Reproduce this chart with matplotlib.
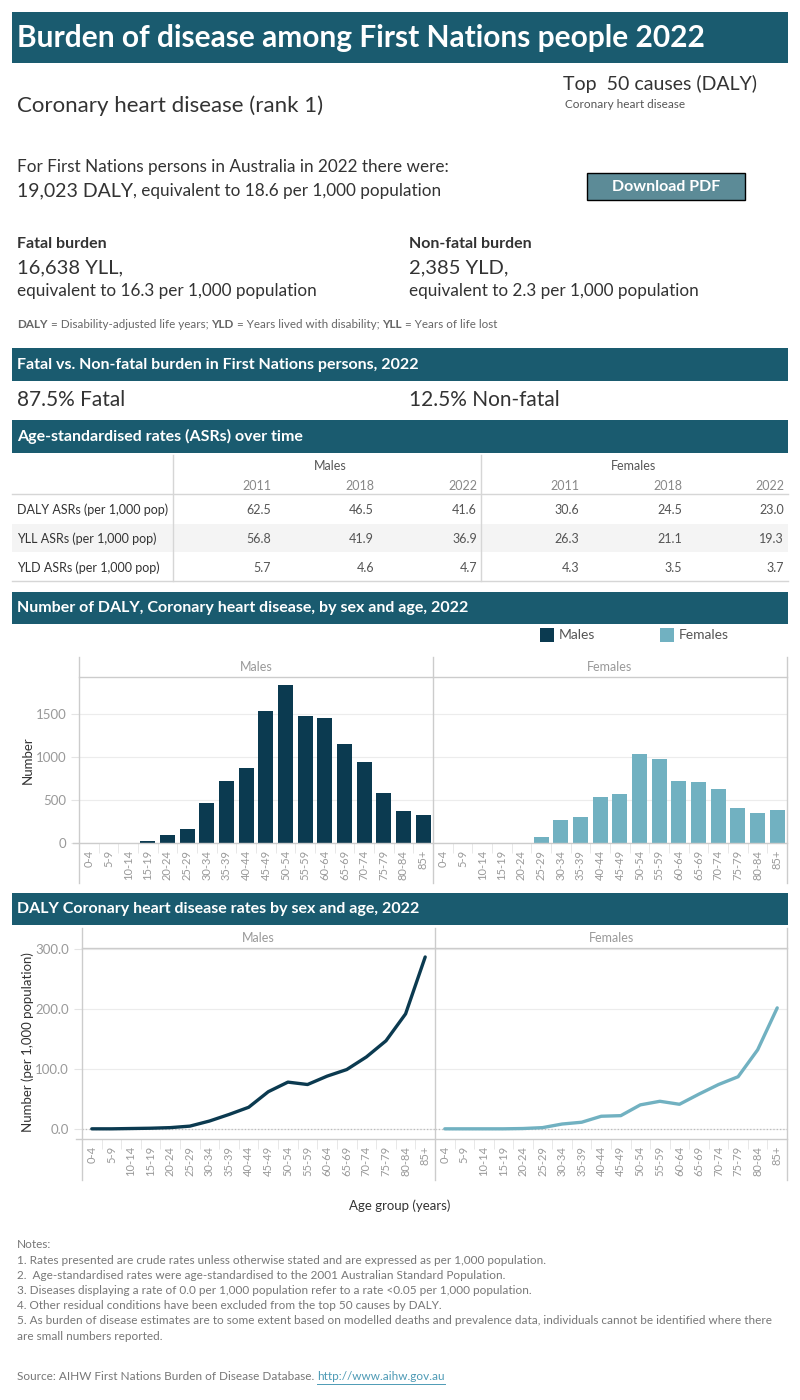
import matplotlib.pyplot as plt
from matplotlib.lines import Line2D
from matplotlib.patches import Rectangle

plt.rcParams['font.family'] = ['Lato', 'DejaVu Sans']

W, H = 800, 1400
BANNER = '#1a5b6f'
MALE_C = '#0b3a50'
FEMALE_C = '#71b1c1'
FRAME = '#cccccc'
GRID = '#ececec'
TICK_C = '#999999'
DARK = '#333333'

# headline figures
disease = 'Coronary heart disease'
rank = 1
daly_total = '19,023'
daly_rate = '18.6'
yll_total = '16,638'
yll_rate = '16.3'
yld_total = '2,385'
yld_rate = '2.3'
pct_fatal = '87.5'
pct_nonfatal = '12.5'

# age-standardised rates table
asr_rows = ['DALY ASRs (per 1,000 pop)', 'YLL ASRs (per 1,000 pop)', 'YLD ASRs (per 1,000 pop)']
asr_years = ['2011', '2018', '2022']
asr_males = [[62.5, 46.5, 41.6], [56.8, 41.9, 36.9], [5.7, 4.6, 4.7]]
asr_females = [[30.6, 24.5, 23.0], [26.3, 21.1, 19.3], [4.3, 3.5, 3.7]]

# by age group
ages = ['0-4', '5-9', '10-14', '15-19', '20-24', '25-29', '30-34', '35-39', '40-44',
        '45-49', '50-54', '55-59', '60-64', '65-69', '70-74', '75-79', '80-84', '85+']
males_daly = [0, 0, 0, 27, 97, 167, 469, 725, 876, 1539, 1841, 1481, 1457, 1155, 946, 585, 376, 329]
females_daly = [0, 0, 0, 0, 0, 74, 271, 306, 539, 574, 1039, 981, 725, 713, 632, 411, 353, 388]
males_rate = [0, 0, 0.5, 1, 2, 4.5, 13, 24, 36, 62, 78, 74, 88, 99, 120, 147, 192, 287]
females_rate = [0, 0, 0, 0, 0.5, 2, 8, 11, 21, 22, 40, 46, 41, 58, 74, 87, 132, 202]

notes = [
    'Notes:',
    '1. Rates presented are crude rates unless otherwise stated and are expressed as per 1,000 population.',
    '2.  Age-standardised rates were age-standardised to the 2001 Australian Standard Population.',
    '3. Diseases displaying a rate of 0.0 per 1,000 population refer to a rate <0.05 per 1,000 population.',
    '4. Other residual conditions have been excluded from the top 50 causes by DALY.',
    '5. As burden of disease estimates are to some extent based on modelled deaths and prevalence data, individuals cannot be identified where there',
    'are small numbers reported.',
]

fig = plt.figure(figsize=(8, 14), dpi=100)
renderer = fig.canvas.get_renderer()


def fx(x):
    return x / W


def fy(y):
    return 1 - y / H


def text(x, y, s, **kw):
    kw.setdefault('va', 'center')
    return fig.text(fx(x), fy(y), s, **kw)


def chain(x, y, parts):
    # place text pieces one after another on one line
    for s, kw in parts:
        t = text(x, y, s, **kw)
        x += t.get_window_extent(renderer=renderer).width
    return x


def hline(x0, x1, y, color=FRAME, lw=1.0, **kw):
    fig.add_artist(Line2D([fx(x0), fx(x1)], [fy(y), fy(y)], color=color, lw=lw, **kw))


def vline(x, y0, y1, color=FRAME, lw=1.0):
    fig.add_artist(Line2D([fx(x), fx(x)], [fy(y0), fy(y1)], color=color, lw=lw))


def rect(x0, y0, x1, y1, **kw):
    fig.add_artist(Rectangle((fx(x0), fy(y1)), (x1 - x0) / W, (y1 - y0) / H, **kw))


def banner(y0, y1, label, size=11.5):
    rect(12, y0, 788, y1, color=BANNER, lw=0)
    text(17, (y0 + y1) / 2, label, color='white', fontsize=size, fontweight='bold')


# header
banner(12, 63, 'Burden of disease among First Nations people 2022', size=21.5)
text(17, 106, f'{disease} (rank {rank})', color=DARK, fontsize=16)
text(563, 84, 'Top  50 causes (DALY)', color=DARK, fontsize=14)
text(565, 104, disease, color='#555555', fontsize=8.5)

text(17, 167, 'For First Nations persons in Australia in 2022 there were:', color=DARK, fontsize=12.3)
chain(17, 191, [(f'{daly_total} DALY', dict(color=DARK, fontsize=14)),
                (f', equivalent to {daly_rate} per 1,000 population', dict(color=DARK, fontsize=12.3))])

rect(587, 173, 745, 200, facecolor='#5c8b97', edgecolor='black', lw=1)
text(666, 187, 'Download PDF', color='white', fontsize=11.5, fontweight='bold', ha='center')

for x0, head, big, rate in [(17, 'Fatal burden', f'{yll_total} YLL,', yll_rate),
                            (409, 'Non-fatal burden', f'{yld_total} YLD,', yld_rate)]:
    text(x0, 244, head, color=DARK, fontsize=11.5, fontweight='bold')
    text(x0, 268, big, color=DARK, fontsize=14.5)
    text(x0, 291, f'equivalent to {rate} per 1,000 population', color=DARK, fontsize=12.3)

fn = dict(color='#666666', fontsize=8.4)
fnb = dict(color='#666666', fontsize=8.4, fontweight='bold')
chain(17, 325, [('DALY', fnb), (' = Disability-adjusted life years; ', fn),
                ('YLD', fnb), (' = Years lived with disability; ', fn),
                ('YLL', fnb), (' = Years of life lost', fn)])

# fatal vs non-fatal
banner(348, 381, 'Fatal vs. Non-fatal burden in First Nations persons, 2022')
text(17, 400, f'{pct_fatal}% Fatal', color=DARK, fontsize=15)
text(409, 400, f'{pct_nonfatal}% Non-fatal', color=DARK, fontsize=15)

# ASR table
banner(420, 453, 'Age-standardised rates (ASRs) over time')
rect(12, 524, 788, 552, color='#f4f4f4', lw=0)
hline(12, 788, 494, color='#d6d6d6')
hline(12, 788, 581, color='#d6d6d6')
vline(173, 455, 581, color='#d6d6d6')
vline(481, 455, 581, color='#d6d6d6')
text(330, 466, 'Males', color='#555555', fontsize=9, ha='center')
text(633, 466, 'Females', color='#555555', fontsize=9, ha='center')
male_cols = [271, 374, 477]
female_cols = [579, 682, 784]
for j, yr in enumerate(asr_years):
    text(male_cols[j], 486, yr, color='#888888', fontsize=9, ha='right')
    text(female_cols[j], 486, yr, color='#888888', fontsize=9, ha='right')
row_y = [510, 539, 568]
for i, lab in enumerate(asr_rows):
    text(17, row_y[i], lab, color=DARK, fontsize=9)
    for j in range(3):
        text(male_cols[j], row_y[i], f'{asr_males[i][j]:.1f}', color='#555555', fontsize=9, ha='right')
        text(female_cols[j], row_y[i], f'{asr_females[i][j]:.1f}', color='#555555', fontsize=9, ha='right')


def style_axes(ax, ymax, ymin, ticks, fmt, show_y):
    ax.set_xlim(-0.5, len(ages) - 0.5)
    ax.set_ylim(ymin, ymax)
    for s in ax.spines.values():
        s.set_visible(False)
    ax.set_xticks(range(len(ages)))
    ax.set_xticklabels(ages, rotation=90, fontsize=8, color=TICK_C)
    ax.set_xticks([i + 0.5 for i in range(len(ages) - 1)], minor=True)
    ax.tick_params(axis='x', which='major', length=0, pad=5)
    ax.tick_params(axis='x', which='minor', length=7, color='#e4e4e4')
    ax.set_yticks(ticks)
    ax.yaxis.grid(True, color=GRID, lw=0.8)
    ax.set_axisbelow(True)
    if show_y:
        ax.set_yticklabels([fmt.format(t) for t in ticks], fontsize=9.5, color=TICK_C)
        ax.tick_params(axis='y', length=6, color='#e4e4e4')
    else:
        ax.set_yticklabels([])
        ax.tick_params(axis='y', length=0)


# DALY numbers by age
banner(592, 624, 'Number of DALY, Coronary heart disease, by sex and age, 2022')
rect(540, 628, 554, 642, color=MALE_C, lw=0)
text(559, 635, 'Males', color='#555555', fontsize=10)
rect(660, 628, 674, 642, color=FEMALE_C, lw=0)
text(679, 635, 'Females', color='#555555', fontsize=10)

bar_panels = [(79, 433, males_daly, MALE_C, 'Males'), (433, 787, females_daly, FEMALE_C, 'Females')]
for x0, x1, vals, col, lab in bar_panels:
    ax = fig.add_axes([fx(x0), fy(843), (x1 - x0) / W, (843 - 677) / H])
    ax.bar(range(len(ages)), vals, width=0.76, color=col)
    style_axes(ax, 1930, 0, [0, 500, 1000, 1500], '{:d}', x0 == 79)
    ax.tick_params(axis='y', pad=3)
    text((x0 + x1) / 2, 667, lab, color='#999999', fontsize=9, ha='center')
for x in (79, 433, 787):
    vline(x, 657, 883)
hline(79, 787, 677)
hline(73, 787, 843)
text(28, 760, 'Number', color=DARK, fontsize=9.5, rotation=90, ha='center')

# DALY rates by age
banner(893, 925, 'DALY Coronary heart disease rates by sex and age, 2022')
line_panels = [(82, 435, males_rate, MALE_C, 'Males'), (435, 787, females_rate, FEMALE_C, 'Females')]
for x0, x1, vals, col, lab in line_panels:
    ax = fig.add_axes([fx(x0), fy(1139), (x1 - x0) / W, (1139 - 948) / H])
    ax.axhline(0, color='#bbbbbb', ls=':', lw=0.9, zorder=1)
    ax.plot(range(len(ages)), vals, color=col, lw=2.4, solid_capstyle='round', zorder=3)
    style_axes(ax, 302, -17, [0, 100, 200, 300], '{:.1f}', x0 == 82)
    text((x0 + x1) / 2, 938, lab, color='#999999', fontsize=9, ha='center')
for x in (82, 435, 787):
    vline(x, 928, 1180)
hline(82, 787, 948)
hline(76, 787, 1139)
text(28, 1042, 'Number (per 1,000 population)', color=DARK, fontsize=9.5, rotation=90, ha='center')
text(400, 1206, 'Age group (years)', color=DARK, fontsize=9.5, ha='center')

# notes and source
for i, line in enumerate(notes):
    text(17, 1245 + i * 15.2, line, color='#777777', fontsize=8.5)
src_end = chain(17, 1377, [('Source: AIHW First Nations Burden of Disease Database. ', dict(color='#777777', fontsize=8.5))])
url = text(src_end, 1377, 'http://www.aihw.gov.au', color='#4d9ab5', fontsize=8.5)
url_w = url.get_window_extent(renderer=renderer).width
hline(src_end, src_end + url_w, 1384, color='#4d9ab5', lw=0.7)

fig.savefig('out.png', dpi=100)
